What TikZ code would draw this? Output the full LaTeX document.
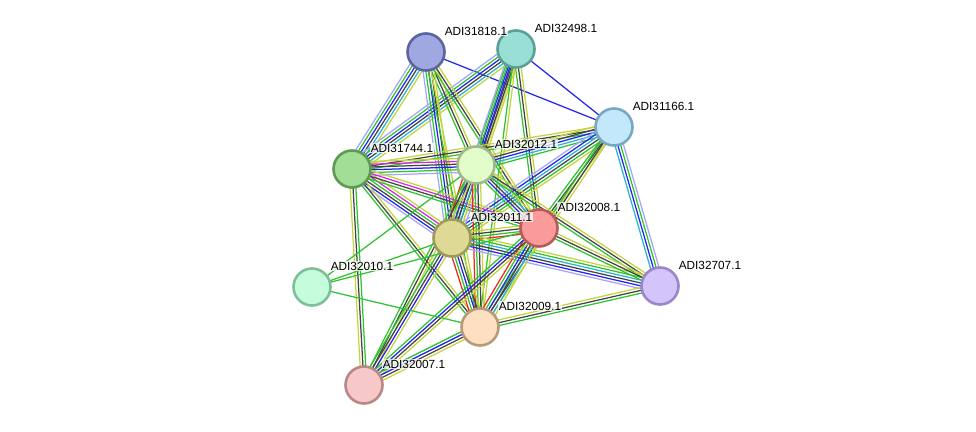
\documentclass[tikz,border=0pt]{standalone}
\usepackage{fontspec}
\setmainfont{Liberation Sans}
\usetikzlibrary{calc,backgrounds,positioning}

\definecolor{cNeigh}{HTML}{2FC42F}
\definecolor{cFusion}{HTML}{F5231E}
\definecolor{cCooc}{HTML}{2424F0}
\definecolor{cCoex}{HTML}{444444}
\definecolor{cExper}{HTML}{DC28DC}
\definecolor{cDatab}{HTML}{26B4D6}
\definecolor{cText}{HTML}{C4D43C}
\definecolor{cHomol}{HTML}{A6A6F6}

% node fill / border
\definecolor{f1818}{HTML}{A0A8E2}\definecolor{b1818}{HTML}{5A64A0}
\definecolor{f2498}{HTML}{9ADFD6}\definecolor{b2498}{HTML}{5AA096}
\definecolor{f1166}{HTML}{C4E8FB}\definecolor{b1166}{HTML}{7AA7C4}
\definecolor{f1744}{HTML}{A2DE96}\definecolor{b1744}{HTML}{5F9A55}
\definecolor{f2012}{HTML}{E2FCCA}\definecolor{b2012}{HTML}{A0B98A}
\definecolor{f2011}{HTML}{DEDA96}\definecolor{b2011}{HTML}{9E9A5A}
\definecolor{f2008}{HTML}{FA9A9A}\definecolor{b2008}{HTML}{B85A5A}
\definecolor{f2010}{HTML}{C4FCDC}\definecolor{b2010}{HTML}{7DBF98}
\definecolor{f2707}{HTML}{D4C4FC}\definecolor{b2707}{HTML}{9A87C8}
\definecolor{f2009}{HTML}{FDE0C2}\definecolor{b2009}{HTML}{B89A7A}
\definecolor{f2007}{HTML}{F7C8C8}\definecolor{b2007}{HTML}{B88787}

\tikzset{
  prot/.style={circle, minimum size=37pt, inner sep=0pt, line width=2.6pt},
  lbl/.style={font=\fontsize{11.8}{13}\selectfont, fill=white, fill opacity=0.75, text opacity=1,
              inner sep=0.6pt, xshift=4pt, yshift=2pt}
}

% parallel coloured lines between two proteins
\newcommand{\bundle}[3]{%
  \def\nlines{0}%
  \foreach \c in {#3}{\pgfmathtruncatemacro\tmp{\nlines+1}\global\let\nlines\tmp}%
  \foreach \c [count=\i] in {#3}{%
    \pgfmathsetmacro\off{(\i-1-(\nlines-1)/2)*2.8}%
    \draw[\c, line width=1.25pt] ($(#1)!\off pt!90:(#2)$) -- ($(#2)!\off pt!-90:(#1)$);
  }}

\begin{document}
\begin{tikzpicture}[x=1pt, y=-1pt]
	\useasboundingbox (0,0) rectangle (976,431);

	\foreach \n/\x/\y in {1818/426/52, 2498/516/49, 1166/614/127, 1744/352/169, 2012/476/165,
		2011/452/238, 2008/539/228, 2010/312/287, 2707/660/286, 2009/480/327, 2007/364/385}
	{
		\node[prot, draw=b\n, fill=f\n] (p\n) at (\x,\y) {};
	}

	\begin{scope}[on background layer]
		\bundle{p1818}{p1166}{cCooc}
		\bundle{p2498}{p1166}{cCooc}
		\bundle{p1818}{p1744}{cHomol,cNeigh,cCooc,cCoex,cDatab,cText}
		\bundle{p2498}{p1744}{cHomol,cNeigh,cCooc,cCoex,cDatab,cText}
		\bundle{p1818}{p2012}{cNeigh,cCoex,cText}
		\bundle{p1818}{p2011}{cHomol,cNeigh,cCooc,cCoex,cText}
		\bundle{p1818}{p2008}{cNeigh,cCoex,cText}
		\bundle{p1818}{p2009}{cNeigh,cText}
		\bundle{p2498}{p2012}{cNeigh,cCooc,cCoex,cText}
		\bundle{p2498}{p2011}{cHomol,cNeigh,cCooc,cCoex,cText}
		\bundle{p2498}{p2008}{cNeigh,cCoex,cText}
		\bundle{p2498}{p2009}{cNeigh,cText}
		\bundle{p1166}{p1744}{cText,cCoex,cNeigh}
		\bundle{p1166}{p2012}{cText,cCoex,cCooc,cDatab,cNeigh}
		\bundle{p1166}{p2011}{cHomol,cCooc,cDatab,cCoex,cNeigh,cText}
		\bundle{p1166}{p2008}{cNeigh,cCoex,cText}
		\bundle{p1166}{p2009}{cNeigh,cCoex,cText}
		\bundle{p1166}{p2707}{cDatab,cCooc,cNeigh,cHomol}
		\bundle{p1744}{p2012}{cHomol,cNeigh,cCooc,cCoex,cExper,cText}
		\bundle{p1744}{p2011}{cHomol,cCooc,cCoex,cNeigh,cExper,cText}
		\bundle{p1744}{p2008}{cNeigh,cCoex,cExper,cText}
		\bundle{p1744}{p2009}{cNeigh,cCoex,cText}
		\bundle{p1744}{p2007}{cText,cCoex,cNeigh}
		\bundle{p2012}{p2011}{cFusion,cNeigh,cCooc,cCoex,cDatab,cText,cHomol}
		\bundle{p2012}{p2008}{cNeigh,cCooc,cCoex,cDatab,cText}
		\bundle{p2012}{p2009}{cFusion,cNeigh,cCoex,cText}
		\bundle{p2012}{p2707}{cNeigh,cCoex,cText}
		\bundle{p2012}{p2007}{cNeigh,cCoex,cText}
		\bundle{p2011}{p2008}{cFusion,cNeigh,cCoex,cText}
		\bundle{p2011}{p2009}{cFusion,cNeigh,cCooc,cCoex,cText}
		\bundle{p2011}{p2707}{cHomol,cCooc,cCoex,cDatab,cNeigh,cText}
		\bundle{p2011}{p2007}{cNeigh,cCoex,cCooc,cText}
		\bundle{p2008}{p2009}{cFusion,cNeigh,cCooc,cCoex,cDatab,cText}
		\bundle{p2008}{p2707}{cNeigh,cCoex,cText}
		\bundle{p2008}{p2007}{cNeigh,cCooc,cCoex,cText}
		\bundle{p2009}{p2707}{cNeigh,cCoex,cText}
		\bundle{p2009}{p2007}{cNeigh,cCooc,cCoex,cText}
		\bundle{p2010}{p2012}{cNeigh}
		\bundle{p2010}{p2011}{cNeigh}
		\bundle{p2010}{p2008}{cNeigh}
		\bundle{p2010}{p2009}{cNeigh}
	\end{scope}

	\foreach \n/\t in {1818/ADI31818.1, 2498/ADI32498.1, 1166/ADI31166.1, 1744/ADI31744.1,
		2012/ADI32012.1, 2011/ADI32011.1, 2008/ADI32008.1, 2010/ADI32010.1,
		2707/ADI32707.1, 2009/ADI32009.1, 2007/ADI32007.1}
	{
		\node[lbl, anchor=south west] (l\n) at (p\n.north east) {\t};
	}
\end{tikzpicture}
\end{document}
